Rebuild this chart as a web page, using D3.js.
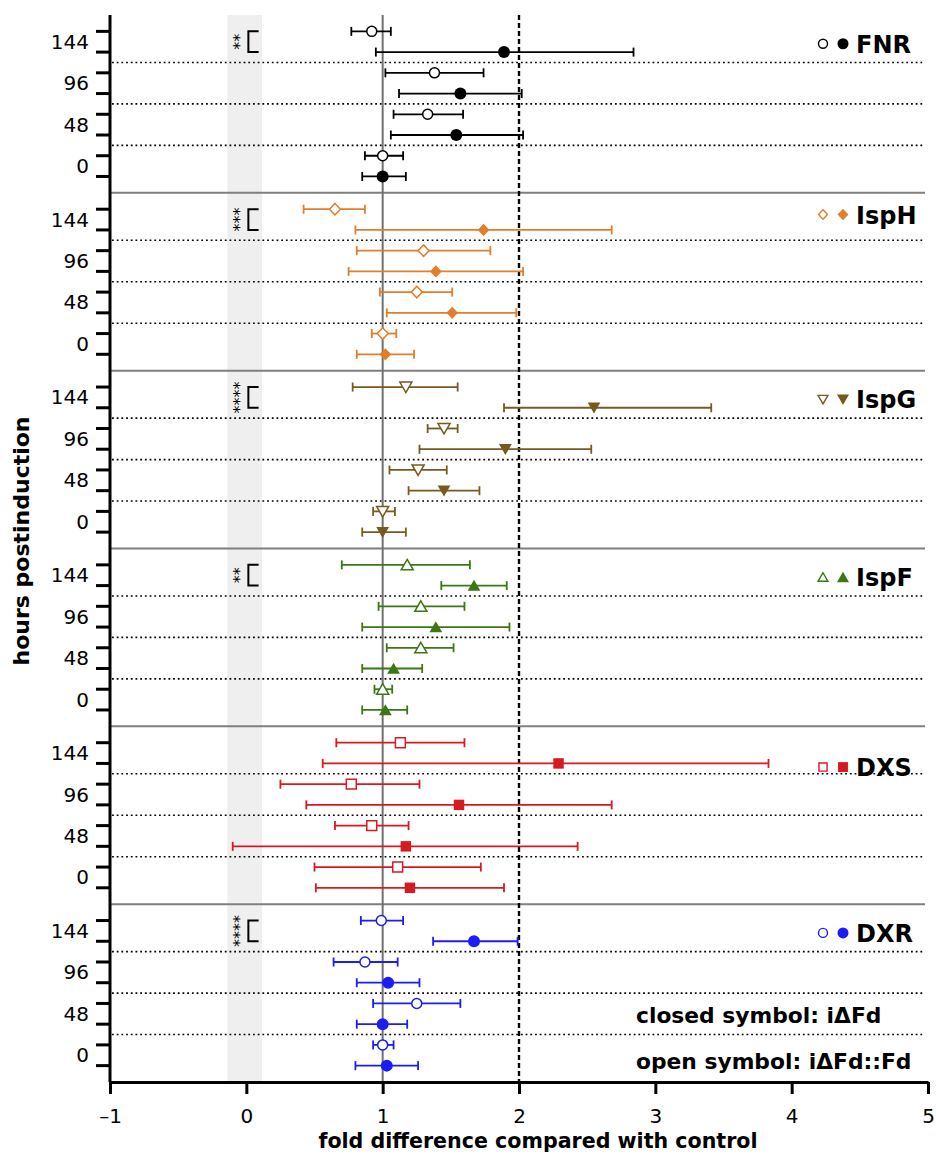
<!DOCTYPE html>
<html>
<head>
<script src="https://d3js.org/d3.v7.min.js"></script>
<style>
body { margin: 0; background: #fff; }
text { font-family: "DejaVu Sans", sans-serif; }
</style>
</head>
<body>
<svg width="936" height="1156"></svg>
<script>
const genes = ["FNR", "IspH", "IspG", "IspF", "DXS", "DXR"];
const hours = ["144", "96", "48", "0"];
const geneColors = ["#000000", "#e27d2a", "#785a1e", "#3b7713", "#d71920", "#1c1cf5"];
const geneShapes = ["circle", "diamond", "triangleDown", "triangleUp", "square", "circle"];
const significance = ["**", "***", "****", "**", "", "****"];
const xTicks = [-1, 0, 1, 2, 3, 4, 5];

// [mean, lower, upper] per time point, order 144, 96, 48, 0 h
const fnrOpen    = [[0.92, 0.77, 1.06], [1.38, 1.02, 1.74], [1.33, 1.08, 1.59], [1.00, 0.87, 1.15]];
const fnrClosed  = [[1.89, 0.95, 2.84], [1.57, 1.12, 2.02], [1.54, 1.06, 2.03], [1.00, 0.85, 1.17]];
const isphOpen   = [[0.65, 0.42, 0.87], [1.30, 0.81, 1.79], [1.25, 0.98, 1.51], [1.00, 0.92, 1.10]];
const isphClosed = [[1.74, 0.80, 2.68], [1.39, 0.75, 2.03], [1.51, 1.03, 1.98], [1.02, 0.81, 1.23]];
const ispgOpen   = [[1.17, 0.78, 1.55], [1.45, 1.33, 1.55], [1.26, 1.05, 1.47], [1.00, 0.93, 1.09]];
const ispgClosed = [[2.55, 1.89, 3.41], [1.90, 1.27, 2.53], [1.45, 1.19, 1.71], [1.00, 0.85, 1.17]];
const ispfOpen   = [[1.18, 0.70, 1.64], [1.28, 0.97, 1.60], [1.28, 1.03, 1.52], [1.00, 0.94, 1.07]];
const ispfClosed = [[1.67, 1.43, 1.91], [1.39, 0.85, 1.93], [1.08, 0.85, 1.29], [1.02, 0.85, 1.18]];
const dxsOpen    = [[1.13, 0.66, 1.60], [0.77, 0.25, 1.27], [0.92, 0.65, 1.19], [1.11, 0.50, 1.72]];
const dxsClosed  = [[2.29, 0.56, 3.83], [1.56, 0.44, 2.68], [1.17, -0.10, 2.43], [1.20, 0.51, 1.89]];
const dxrOpen    = [[0.99, 0.84, 1.15], [0.87, 0.64, 1.11], [1.25, 0.93, 1.57], [1.00, 0.93, 1.08]];
const dxrClosed  = [[1.67, 1.37, 1.99], [1.04, 0.81, 1.27], [1.00, 0.81, 1.18], [1.03, 0.80, 1.26]];

const openSets = [fnrOpen, isphOpen, ispgOpen, ispfOpen, dxsOpen, dxrOpen];
const closedSets = [fnrClosed, isphClosed, ispgClosed, ispfClosed, dxsClosed, dxrClosed];

// flatten into one row per marker: within a panel rows go 144 open, 144 closed, 96 open ...
const points = [];
genes.forEach((g, gi) => {
    hours.forEach((h, hi) => {
        [["open", openSets[gi][hi]], ["closed", closedSets[gi][hi]]].forEach(([kind, v], k) => {
            points.push({gene: g, gi: gi, row: hi * 2 + k, kind: kind, mean: v[0], lo: v[1], hi: v[2]});
        });
    });
});

const svg = d3.select("svg");
const plotLeft = 110, plotRight = 928, plotTop = 15, plotBottom = 1082, lineEnd = 925;

const x = d3.scaleLinear().domain([-1, 5]).range([plotLeft, plotRight]);
const panel = d3.scaleBand().domain(genes).range([plotTop, plotBottom]);
const row = d3.scalePoint().domain(d3.range(8)).range([0, panel.bandwidth()]).padding(0.79);
const yOf = (g, r) => panel(g) + row(r);

function shapePath(shape, s) {
    const p = d3.path();
    if (shape === "circle") {
        p.moveTo(s, 0); p.arc(0, 0, s, 0, 2 * Math.PI);
    } else if (shape === "diamond") {
        p.moveTo(0, -s * 1.05); p.lineTo(s, 0); p.lineTo(0, s * 1.05); p.lineTo(-s, 0);
    } else if (shape === "square") {
        p.rect(-s * 0.9, -s * 0.9, s * 1.8, s * 1.8);
    } else if (shape === "triangleUp") {
        p.moveTo(0, -s); p.lineTo(s * 1.1, s * 0.9); p.lineTo(-s * 1.1, s * 0.9);
    } else {
        p.moveTo(0, s); p.lineTo(s * 1.1, -s * 0.9); p.lineTo(-s * 1.1, -s * 0.9);
    }
    p.closePath();
    return p.toString();
}

// grey band around zero
svg.append("rect")
    .attr("x", x(-0.14)).attr("width", x(0.115) - x(-0.14))
    .attr("y", plotTop).attr("height", plotBottom - plotTop)
    .attr("fill", "#efefef");

// dotted separators between time points
const dotted = [];
genes.forEach(g => [1, 3, 5].forEach(r => dotted.push((yOf(g, r) + yOf(g, r + 1)) / 2)));
svg.selectAll("line.dot").data(dotted).join("line")
    .attr("class", "dot")
    .attr("x1", plotLeft + 2).attr("x2", lineEnd)
    .attr("y1", d => d).attr("y2", d => d)
    .attr("stroke", "#000").attr("stroke-width", 1.6)
    .attr("stroke-dasharray", "1.8,2.9");

// solid panel separators
svg.selectAll("line.sep").data(genes.slice(1)).join("line")
    .attr("class", "sep")
    .attr("x1", plotLeft).attr("x2", lineEnd)
    .attr("y1", d => panel(d)).attr("y2", d => panel(d))
    .attr("stroke", "#7f7f7f").attr("stroke-width", 2);

// reference lines at 1 and 2
svg.append("line")
    .attr("x1", x(1)).attr("x2", x(1)).attr("y1", plotTop).attr("y2", plotBottom)
    .attr("stroke", "#707070").attr("stroke-width", 2);
svg.append("line")
    .attr("x1", x(2)).attr("x2", x(2)).attr("y1", plotTop).attr("y2", plotBottom)
    .attr("stroke", "#000").attr("stroke-width", 2.4)
    .attr("stroke-dasharray", "5,3");

// error bars
const bars = svg.selectAll("g.bar").data(points).join("g")
    .attr("class", "bar")
    .attr("transform", d => `translate(0,${yOf(d.gene, d.row)})`)
    .attr("stroke", d => geneColors[d.gi])
    .attr("stroke-width", 1.8);
bars.append("line").attr("x1", d => x(d.lo)).attr("x2", d => x(d.hi));
bars.append("line").attr("x1", d => x(d.lo)).attr("x2", d => x(d.lo)).attr("y1", -4.5).attr("y2", 4.5);
bars.append("line").attr("x1", d => x(d.hi)).attr("x2", d => x(d.hi)).attr("y1", -4.5).attr("y2", 4.5);

// markers
svg.selectAll("path.mark").data(points).join("path")
    .attr("class", "mark")
    .attr("transform", d => `translate(${x(d.mean)},${yOf(d.gene, d.row)})`)
    .attr("d", d => shapePath(geneShapes[d.gi], d.kind === "open" ? (geneShapes[d.gi] === "circle" ? 5 : 5.5) : (geneShapes[d.gi] === "circle" ? 6 : 5.8)))
    .attr("fill", d => d.kind === "open" ? "#fff" : geneColors[d.gi])
    .attr("stroke", d => geneColors[d.gi])
    .attr("stroke-width", d => d.kind === "open" ? 1.5 : 0);

// legend per panel (the original key labels do not all sit on the same row)
const legendNudge = {IspH: -7, DXS: 12};
const leg = svg.selectAll("g.leg").data(genes).join("g")
    .attr("class", "leg")
    .attr("transform", (g) => `translate(0,${(yOf(g, 0) + yOf(g, 1)) / 2 + 2 + (legendNudge[g] || 0)})`);
leg.append("path")
    .attr("transform", "translate(823,0)")
    .attr("d", (g, i) => shapePath(geneShapes[i], 4.5))
    .attr("fill", "#fff").attr("stroke", (g, i) => geneColors[i]).attr("stroke-width", 1.4);
leg.append("path")
    .attr("transform", "translate(843,0)")
    .attr("d", (g, i) => shapePath(geneShapes[i], 5.5))
    .attr("fill", (g, i) => geneColors[i]);
leg.append("text")
    .attr("x", 856).attr("y", 9)
    .attr("font-size", 24).attr("font-weight", "bold")
    .text(g => g);

// significance brackets on the 144 h pair
const sig = svg.selectAll("g.sig").data(genes.filter((g, i) => significance[i])).join("g")
    .attr("class", "sig");
sig.append("path")
    .attr("d", g => `M${x(0.09)},${yOf(g, 0)}H${x(0.015)}V${yOf(g, 1)}H${x(0.09)}`)
    .attr("fill", "none").attr("stroke", "#000").attr("stroke-width", 2);
sig.append("text")
    .attr("transform", g => `translate(${x(-0.05)},${(yOf(g, 0) + yOf(g, 1)) / 2}) rotate(-90)`)
    .attr("text-anchor", "middle").attr("dominant-baseline", "central")
    .attr("font-size", 16)
    .text(g => significance[genes.indexOf(g)]);

// y axis: spine, a tick per marker row, hour labels per pair
svg.append("line")
    .attr("x1", plotLeft).attr("x2", plotLeft).attr("y1", plotTop).attr("y2", plotBottom)
    .attr("stroke", "#000").attr("stroke-width", 3);
svg.selectAll("line.ytick").data(points).join("line")
    .attr("class", "ytick")
    .attr("x1", plotLeft - 14).attr("x2", plotLeft)
    .attr("y1", d => yOf(d.gene, d.row)).attr("y2", d => yOf(d.gene, d.row))
    .attr("stroke", "#000").attr("stroke-width", 3);
const hourLabels = [];
genes.forEach(g => hours.forEach((h, hi) => hourLabels.push({g: g, h: h, y: (yOf(g, hi * 2) + yOf(g, hi * 2 + 1)) / 2})));
svg.selectAll("text.hour").data(hourLabels).join("text")
    .attr("class", "hour")
    .attr("x", 89).attr("y", d => d.y)
    .attr("text-anchor", "end").attr("dominant-baseline", "central")
    .attr("font-size", 20)
    .text(d => d.h);

// x axis
const xAxis = svg.append("g")
    .attr("transform", `translate(0,${plotBottom})`)
    .call(d3.axisBottom(x).tickValues(xTicks).tickSize(12).tickSizeOuter(0).tickPadding(15)
        .tickFormat(d => d < 0 ? "\u2013" + Math.abs(d) : d));
xAxis.select(".domain").attr("stroke-width", 3);
xAxis.selectAll(".tick line").attr("stroke-width", 3);
xAxis.selectAll(".tick text").attr("font-size", 20).attr("font-family", "DejaVu Sans");

svg.append("text")
    .attr("x", 538).attr("y", 1148)
    .attr("text-anchor", "middle")
    .attr("font-size", 20.6).attr("font-weight", "bold")
    .text("fold difference compared with control");

svg.append("text")
    .attr("transform", "translate(29,541) rotate(-90)")
    .attr("text-anchor", "middle")
    .attr("font-size", 22).attr("font-weight", "bold")
    .text("hours postinduction");

// symbol key
const notes = ["closed symbol: i\u0394Fd", "open symbol: i\u0394Fd::Fd"];
svg.selectAll("text.note").data(notes).join("text")
    .attr("class", "note")
    .attr("x", 636)
    .attr("y", (d, i) => yOf("DXR", i === 0 ? 5 : 7) + (i === 0 ? -1 : 3))
    .attr("font-size", 21.8).attr("font-weight", "bold")
    .text(d => d);
</script>
</body>
</html>
